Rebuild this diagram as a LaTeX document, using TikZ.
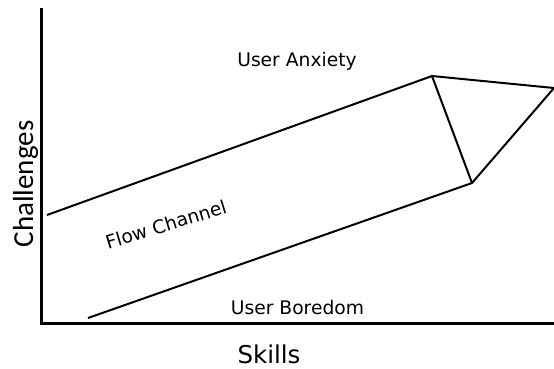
\documentclass[tikz,border=0pt]{standalone}
\usepackage{fontspec}
\setmainfont{DejaVu Sans}
\newfontfamily\axisfont{Carlito}
\usetikzlibrary{calc,positioning}

\begin{document}
\begin{tikzpicture}[
                x=1pt, y=-1pt,
                axis/.style={line width=3pt},
                channel/.style={line width=2pt},
                every node/.append style={inner sep=0pt,anchor=base,font=\fontsize{18.7}{20}\selectfont}
            ]
                \useasboundingbox (0,0) rectangle (554,368);
                \coordinate (O)    at (41,323);
                \coordinate (ytop) at (41,8);
                \coordinate (xend) at (554,323);
                \coordinate (up)   at (47,215);
                \coordinate (peak) at (432,76);
                \coordinate (tip)  at (554,88);
                \coordinate (low)  at (472,183);
                \coordinate (lo)   at (88,318);
                \draw[axis] (ytop) -- (O) -- (xend);
                \draw[channel] (up) -- (peak) -- (tip) -- (low) -- (lo);
                \draw[channel] (peak) -- (low);
                \node (anxiety) at (297,66)    {User Anxiety};
                \node (boredom) at (297.5,314) {User Boredom};
                \node[rotate=17] (flow) at (168,231) {Flow Channel};
                \node[font=\fontsize{24.5}{26}\selectfont] (skills) at (269,363) {Skills};
                \node[rotate=90,font=\axisfont\fontsize{29}{30}\selectfont] (challenges) at (33,184) {Challenges};
            \end{tikzpicture}
\end{document}
